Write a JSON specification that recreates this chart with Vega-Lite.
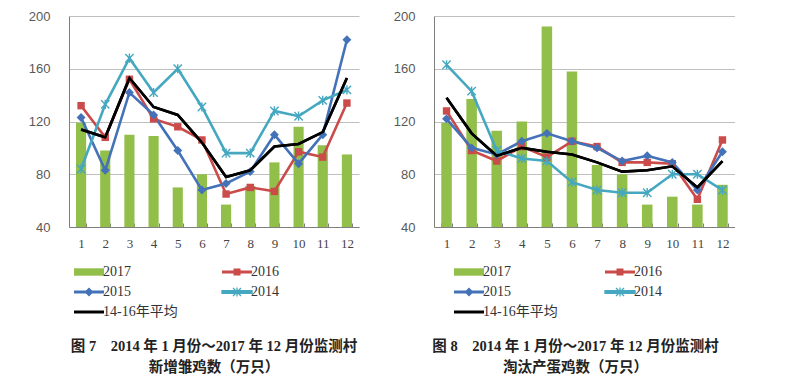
{
  "$schema": "https://vega.github.io/schema/vega-lite/v6.json",
  "padding": {"left": 28, "top": 10, "right": 0, "bottom": 0},
  "background": "white",
  "spacing": 34,
  "config": {
    "view": {"stroke": null},
    "axisY": {"grid": true, "gridColor": "#BFBFBF", "domainColor": "#7F7F7F", "ticks": false, "labelPadding": 19, "labelFont": "Liberation Sans", "labelFontSize": 13, "labelColor": "#595959", "title": null},
    "axisX": {"domainColor": "#7F7F7F", "grid": false, "labelAngle": 0, "labelFont": "Liberation Serif", "labelFontSize": 13, "labelColor": "#444444", "title": null, "tickBand": "extent", "tickColor": "#7F7F7F", "tickSize": -4, "labelPadding": 14}
  },
  "datasets": {
    "d7": [
      {"m": 1, "s": "2017", "v": 119}, {"m": 2, "s": "2017", "v": 98}, {"m": 3, "s": "2017", "v": 110}, {"m": 4, "s": "2017", "v": 109}, {"m": 5, "s": "2017", "v": 70}, {"m": 6, "s": "2017", "v": 80}, {"m": 7, "s": "2017", "v": 57}, {"m": 8, "s": "2017", "v": 71}, {"m": 9, "s": "2017", "v": 89}, {"m": 10, "s": "2017", "v": 116}, {"m": 11, "s": "2017", "v": 102}, {"m": 12, "s": "2017", "v": 95},
      {"m": 1, "s": "2016", "v": 132}, {"m": 2, "s": "2016", "v": 108}, {"m": 3, "s": "2016", "v": 152}, {"m": 4, "s": "2016", "v": 122}, {"m": 5, "s": "2016", "v": 116}, {"m": 6, "s": "2016", "v": 106}, {"m": 7, "s": "2016", "v": 65}, {"m": 8, "s": "2016", "v": 70}, {"m": 9, "s": "2016", "v": 67}, {"m": 10, "s": "2016", "v": 97}, {"m": 11, "s": "2016", "v": 93}, {"m": 12, "s": "2016", "v": 134},
      {"m": 1, "s": "2015", "v": 123}, {"m": 2, "s": "2015", "v": 83}, {"m": 3, "s": "2015", "v": 142}, {"m": 4, "s": "2015", "v": 125}, {"m": 5, "s": "2015", "v": 98}, {"m": 6, "s": "2015", "v": 68}, {"m": 7, "s": "2015", "v": 73}, {"m": 8, "s": "2015", "v": 82}, {"m": 9, "s": "2015", "v": 110}, {"m": 10, "s": "2015", "v": 88}, {"m": 11, "s": "2015", "v": 110}, {"m": 12, "s": "2015", "v": 182},
      {"m": 1, "s": "2014", "v": 84}, {"m": 2, "s": "2014", "v": 133}, {"m": 3, "s": "2014", "v": 168}, {"m": 4, "s": "2014", "v": 142}, {"m": 5, "s": "2014", "v": 160}, {"m": 6, "s": "2014", "v": 131}, {"m": 7, "s": "2014", "v": 96}, {"m": 8, "s": "2014", "v": 96}, {"m": 9, "s": "2014", "v": 128}, {"m": 10, "s": "2014", "v": 124}, {"m": 11, "s": "2014", "v": 136}, {"m": 12, "s": "2014", "v": 144},
      {"m": 1, "s": "14-16年平均", "v": 114}, {"m": 2, "s": "14-16年平均", "v": 108}, {"m": 3, "s": "14-16年平均", "v": 153}, {"m": 4, "s": "14-16年平均", "v": 131}, {"m": 5, "s": "14-16年平均", "v": 125}, {"m": 6, "s": "14-16年平均", "v": 104}, {"m": 7, "s": "14-16年平均", "v": 78}, {"m": 8, "s": "14-16年平均", "v": 83}, {"m": 9, "s": "14-16年平均", "v": 101}, {"m": 10, "s": "14-16年平均", "v": 103}, {"m": 11, "s": "14-16年平均", "v": 112}, {"m": 12, "s": "14-16年平均", "v": 153}
    ],
    "d8": [
      {"m": 1, "s": "2017", "v": 119}, {"m": 2, "s": "2017", "v": 137}, {"m": 3, "s": "2017", "v": 113}, {"m": 4, "s": "2017", "v": 120}, {"m": 5, "s": "2017", "v": 192}, {"m": 6, "s": "2017", "v": 158}, {"m": 7, "s": "2017", "v": 87}, {"m": 8, "s": "2017", "v": 80}, {"m": 9, "s": "2017", "v": 57}, {"m": 10, "s": "2017", "v": 63}, {"m": 11, "s": "2017", "v": 57}, {"m": 12, "s": "2017", "v": 72},
      {"m": 1, "s": "2016", "v": 128}, {"m": 2, "s": "2016", "v": 98}, {"m": 3, "s": "2016", "v": 90}, {"m": 4, "s": "2016", "v": 101}, {"m": 5, "s": "2016", "v": 93}, {"m": 6, "s": "2016", "v": 105}, {"m": 7, "s": "2016", "v": 101}, {"m": 8, "s": "2016", "v": 89}, {"m": 9, "s": "2016", "v": 89}, {"m": 10, "s": "2016", "v": 88}, {"m": 11, "s": "2016", "v": 61}, {"m": 12, "s": "2016", "v": 106},
      {"m": 1, "s": "2015", "v": 122}, {"m": 2, "s": "2015", "v": 100}, {"m": 3, "s": "2015", "v": 95}, {"m": 4, "s": "2015", "v": 105}, {"m": 5, "s": "2015", "v": 111}, {"m": 6, "s": "2015", "v": 105}, {"m": 7, "s": "2015", "v": 100}, {"m": 8, "s": "2015", "v": 90}, {"m": 9, "s": "2015", "v": 94}, {"m": 10, "s": "2015", "v": 89}, {"m": 11, "s": "2015", "v": 68}, {"m": 12, "s": "2015", "v": 97},
      {"m": 1, "s": "2014", "v": 163}, {"m": 2, "s": "2014", "v": 143}, {"m": 3, "s": "2014", "v": 98}, {"m": 4, "s": "2014", "v": 92}, {"m": 5, "s": "2014", "v": 90}, {"m": 6, "s": "2014", "v": 74}, {"m": 7, "s": "2014", "v": 68}, {"m": 8, "s": "2014", "v": 66}, {"m": 9, "s": "2014", "v": 66}, {"m": 10, "s": "2014", "v": 80}, {"m": 11, "s": "2014", "v": 80}, {"m": 12, "s": "2014", "v": 68},
      {"m": 1, "s": "14-16年平均", "v": 138}, {"m": 2, "s": "14-16年平均", "v": 111}, {"m": 3, "s": "14-16年平均", "v": 94}, {"m": 4, "s": "14-16年平均", "v": 100}, {"m": 5, "s": "14-16年平均", "v": 97}, {"m": 6, "s": "14-16年平均", "v": 95}, {"m": 7, "s": "14-16年平均", "v": 89}, {"m": 8, "s": "14-16年平均", "v": 82}, {"m": 9, "s": "14-16年平均", "v": 83}, {"m": 10, "s": "14-16年平均", "v": 86}, {"m": 11, "s": "14-16年平均", "v": 70}, {"m": 12, "s": "14-16年平均", "v": 90}
    ]
  },
  "resolve": {"scale": {"color": "independent", "x": "independent", "y": "independent"}, "legend": {"color": "independent"}},
  "hconcat": [
    {
      "width": 290, "height": 211,
      "data": {"name": "d7"},
      "title": {"text": ["图 7　2014 年 1 月份～2017 年 12 月份监测村", "新增雏鸡数（万只）"], "orient": "bottom", "anchor": "middle", "frame": "group", "offset": 21, "fontSize": 14.5, "fontWeight": "bold", "font": "Liberation Serif, Noto Sans CJK SC", "lineHeight": 21, "color": "#222222"},
      "encoding": {
        "x": {"field": "m", "type": "ordinal", "scale": {"paddingInner": 0.58, "paddingOuter": 0.29}},
        "y": {"field": "v", "type": "quantitative", "scale": {"domain": [40, 200], "nice": false, "zero": false}, "axis": {"values": [40, 80, 120, 160, 200]}},
        "color": {"field": "s", "type": "nominal", "sort": null,
          "scale": {"domain": ["2017", "2016", "2015", "2014", "14-16年平均"], "range": ["#92BE4A", "#CB4B4B", "#4472B8", "#45A8C0", "#000000"]},
          "legend": {"orient": "none", "direction": "horizontal", "legendX": 8, "legendY": 249, "columns": 2, "columnPadding": 41, "rowPadding": 5, "symbolSize": 400, "labelOffset": 12, "labelFont": "Liberation Serif, Noto Sans CJK SC", "labelFontSize": 14, "labelColor": "#333333", "title": null,
            "encode": {"symbols": {"update": {
              "shape": {"signal": "datum.value === '2017' ? 'M-1,-0.37H2V0.37H-1Z' : datum.value === '2016' ? 'M-1,-0.14H2V0.14H-1Z M0.15,-0.35H0.85V0.35H0.15Z' : datum.value === '2015' ? 'M-1,-0.14H2V0.14H-1Z M0.5,-0.45L0.95,0L0.5,0.45L0.05,0Z' : datum.value === '2014' ? 'M-1,-0.14H2V0.14H-1Z M0.1,-0.4L0.9,0.4M0.1,0.4L0.9,-0.4M0.5,-0.45V0.45' : 'M-1,-0.15H2V0.15H-1Z'"},
              "fill": {"signal": "datum.value === '2017' ? '#92BE4A' : datum.value === '2016' ? '#CB4B4B' : datum.value === '2015' ? '#4472B8' : datum.value === '2014' ? '#45A8C0' : '#000000'"},
              "stroke": {"signal": "datum.value === '2014' ? '#45A8C0' : 'transparent'"},
              "strokeWidth": {"signal": "datum.value === '2014' ? 1.3 : 0"},
              "opacity": {"value": 1}, "fillOpacity": {"value": 1}
            }}}
          }
        }
      },
      "layer": [
        {"transform": [{"filter": "datum.s == '2017'"}], "mark": {"type": "bar"}, "encoding": {"y2": {"datum": 40}}},
        {"transform": [{"filter": "datum.s != '2017'"}], "mark": {"type": "line", "strokeWidth": 2.6}},
        {"transform": [{"filter": "datum.s == '2016'"}], "mark": {"type": "point", "shape": "square", "filled": true, "size": 55, "opacity": 1}, "encoding": {"color": {"value": "#CB4B4B"}}},
        {"transform": [{"filter": "datum.s == '2015'"}], "mark": {"type": "point", "shape": "diamond", "filled": true, "size": 80, "opacity": 1}, "encoding": {"color": {"value": "#4472B8"}}},
        {"transform": [{"filter": "datum.s == '2014'"}], "mark": {"type": "point", "shape": "M-1,-1L1,1M-1,1L1,-1M0,-1.1V1.1", "filled": false, "size": 70, "strokeWidth": 1.4, "opacity": 1}, "encoding": {"color": {"value": "#45A8C0"}}},
        {"transform": [{"filter": "datum.s == '14-16年平均'"}], "mark": {"type": "line", "strokeWidth": 2.6, "color": "#000000"}, "encoding": {"color": {"value": "#000000"}}}
      ]
    },
    {
      "width": 301, "height": 211,
      "data": {"name": "d8"},
      "title": {"text": ["图 8　2014 年 1 月份～2017 年 12 月份监测村", "淘汰产蛋鸡数（万只）"], "orient": "bottom", "anchor": "middle", "frame": "group", "offset": 21, "dx": -9, "fontSize": 14.5, "fontWeight": "bold", "font": "Liberation Serif, Noto Sans CJK SC", "lineHeight": 21, "color": "#222222"},
      "encoding": {
        "x": {"field": "m", "type": "ordinal", "scale": {"paddingInner": 0.58, "paddingOuter": 0.29}},
        "y": {"field": "v", "type": "quantitative", "scale": {"domain": [40, 200], "nice": false, "zero": false}, "axis": {"values": [40, 80, 120, 160, 200]}},
        "color": {"field": "s", "type": "nominal", "sort": null,
          "scale": {"domain": ["2017", "2016", "2015", "2014", "14-16年平均"], "range": ["#92BE4A", "#CB4B4B", "#4472B8", "#45A8C0", "#000000"]},
          "legend": {"orient": "none", "direction": "horizontal", "legendX": 23, "legendY": 249, "columns": 2, "columnPadding": 44, "rowPadding": 5, "symbolSize": 400, "labelOffset": 12, "labelFont": "Liberation Serif, Noto Sans CJK SC", "labelFontSize": 14, "labelColor": "#333333", "title": null,
            "encode": {"symbols": {"update": {
              "shape": {"signal": "datum.value === '2017' ? 'M-1,-0.37H2V0.37H-1Z' : datum.value === '2016' ? 'M-1,-0.14H2V0.14H-1Z M0.15,-0.35H0.85V0.35H0.15Z' : datum.value === '2015' ? 'M-1,-0.14H2V0.14H-1Z M0.5,-0.45L0.95,0L0.5,0.45L0.05,0Z' : datum.value === '2014' ? 'M-1,-0.14H2V0.14H-1Z M0.1,-0.4L0.9,0.4M0.1,0.4L0.9,-0.4M0.5,-0.45V0.45' : 'M-1,-0.15H2V0.15H-1Z'"},
              "fill": {"signal": "datum.value === '2017' ? '#92BE4A' : datum.value === '2016' ? '#CB4B4B' : datum.value === '2015' ? '#4472B8' : datum.value === '2014' ? '#45A8C0' : '#000000'"},
              "stroke": {"signal": "datum.value === '2014' ? '#45A8C0' : 'transparent'"},
              "strokeWidth": {"signal": "datum.value === '2014' ? 1.3 : 0"},
              "opacity": {"value": 1}, "fillOpacity": {"value": 1}
            }}}
          }
        }
      },
      "layer": [
        {"transform": [{"filter": "datum.s == '2017'"}], "mark": {"type": "bar"}, "encoding": {"y2": {"datum": 40}}},
        {"transform": [{"filter": "datum.s != '2017'"}], "mark": {"type": "line", "strokeWidth": 2.6}},
        {"transform": [{"filter": "datum.s == '2016'"}], "mark": {"type": "point", "shape": "square", "filled": true, "size": 55, "opacity": 1}, "encoding": {"color": {"value": "#CB4B4B"}}},
        {"transform": [{"filter": "datum.s == '2015'"}], "mark": {"type": "point", "shape": "diamond", "filled": true, "size": 80, "opacity": 1}, "encoding": {"color": {"value": "#4472B8"}}},
        {"transform": [{"filter": "datum.s == '2014'"}], "mark": {"type": "point", "shape": "M-1,-1L1,1M-1,1L1,-1M0,-1.1V1.1", "filled": false, "size": 70, "strokeWidth": 1.4, "opacity": 1}, "encoding": {"color": {"value": "#45A8C0"}}},
        {"transform": [{"filter": "datum.s == '14-16年平均'"}], "mark": {"type": "line", "strokeWidth": 2.6, "color": "#000000"}, "encoding": {"color": {"value": "#000000"}}}
      ]
    }
  ]
}
